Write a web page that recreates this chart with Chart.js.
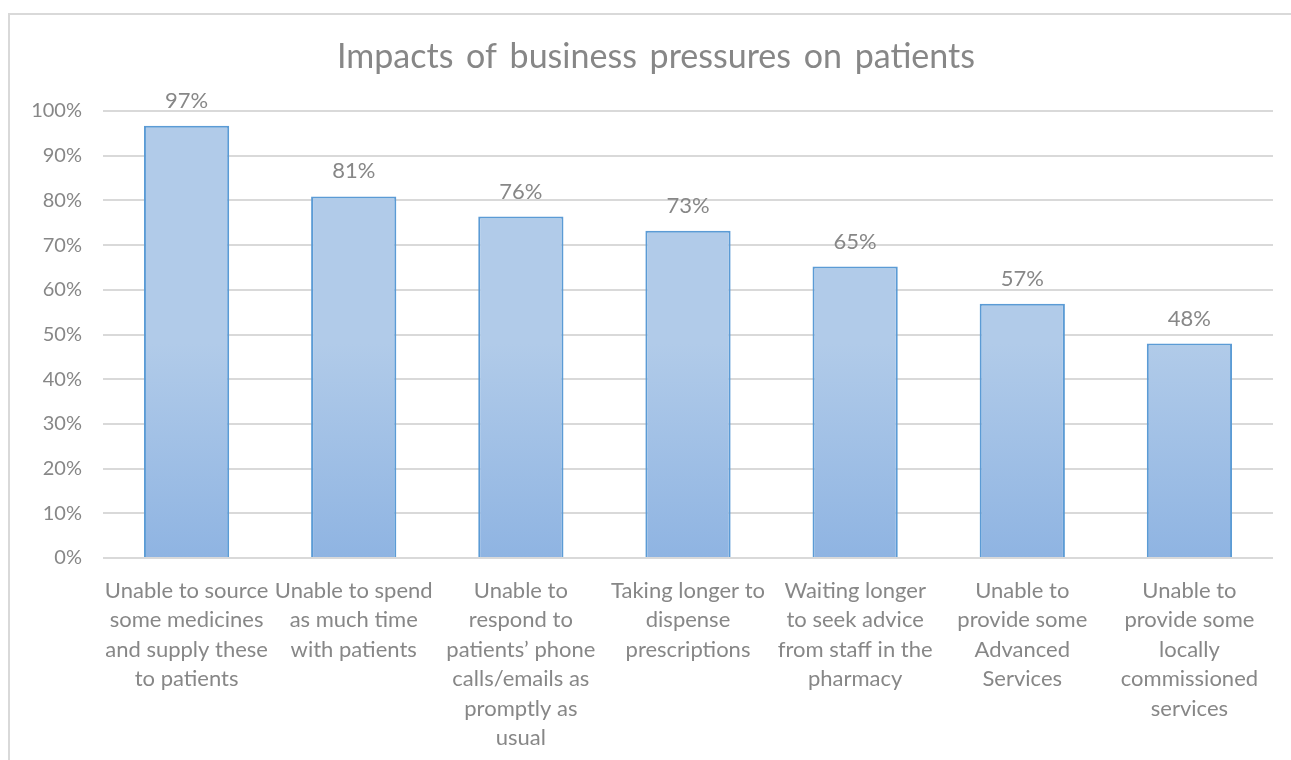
<!DOCTYPE html>
<html>
<head>
<meta charset="utf-8">
<script src="https://cdn.jsdelivr.net/npm/chart.js@4/dist/chart.umd.min.js"></script>
<style>
    html, body { margin: 0; padding: 0; background: #fff; }
    #wrap { position: relative; width: 1291px; height: 760px; overflow: hidden; }
    #frame { position: absolute; left: 8px; top: 13px; width: 1300px; height: 800px; border: 2px solid #d9d9d9; box-sizing: border-box; }
    canvas { position: absolute; left: 0; top: 0; }
</style>
</head>
<body>
<div id="wrap">
    <div id="frame"></div>
    <canvas id="impactChart" width="1291" height="760"></canvas>
</div>
<script>
const TITLE = 'Impacts of business pressures on patients';
const CATEGORIES = [
    ['Unable to source', 'some medicines', 'and supply these', 'to patients'],
    ['Unable to spend', 'as much time', 'with patients'],
    ['Unable to', 'respond to', 'patients’ phone', 'calls/emails as', 'promptly as', 'usual'],
    ['Taking longer to', 'dispense', 'prescriptions'],
    ['Waiting longer', 'to seek advice', 'from staff in the', 'pharmacy'],
    ['Unable to', 'provide some', 'Advanced', 'Services'],
    ['Unable to', 'provide some', 'locally', 'commissioned', 'services'],
];
const VALUES = [96.7, 80.9, 76.4, 73.2, 65.2, 56.9, 48.0];
const VALUE_LABELS = ['97%', '81%', '76%', '73%', '65%', '57%', '48%'];

const TEXT_GREY = '#878787';
const FONT = 'Lato, "Open Sans", sans-serif';

// Excel-style vertical gradient, one per bar
const barGradient = {
    id: 'barGradient',
    beforeDatasetsDraw(chart) {
        const c = chart.ctx;
        chart.getDatasetMeta(0).data.forEach(bar => {
            const g = c.createLinearGradient(0, bar.y, 0, bar.base);
            g.addColorStop(0, '#b1cbe9');
            g.addColorStop(1, '#8fb4e2');
            bar.options.backgroundColor = g;
        });
    },
};

const valueLabels = {
    id: 'valueLabels',
    afterDatasetsDraw(chart) {
        const c = chart.ctx;
        c.save();
        c.font = `22px ${FONT}`;
        c.fillStyle = TEXT_GREY;
        c.textAlign = 'center';
        c.textBaseline = 'middle';
        chart.getDatasetMeta(0).data.forEach((bar, i) => {
            c.fillText(VALUE_LABELS[i], bar.x, bar.y - 25);
        });
        c.restore();
    },
};

// title drawn by hand: centred on the frame, with Excel's wide word gaps
const spacedTitle = {
    id: 'spacedTitle',
    afterDraw(chart) {
        const c = chart.ctx;
        c.save();
        c.font = `34px ${FONT}`;
        c.fillStyle = TEXT_GREY;
        c.textAlign = 'center';
        c.textBaseline = 'middle';
        c.wordSpacing = '4px';
        c.fillText(TITLE, 656, 57);
        c.restore();
    },
};

new Chart(document.getElementById('impactChart'), {
    type: 'bar',
    data: {
        labels: CATEGORIES,
        datasets: [{
            data: VALUES,
            backgroundColor: '#a0c0e6',
            borderColor: '#5b9bd5',
            borderWidth: 2,
            borderSkipped: 'bottom',
            barPercentage: 0.51,
            categoryPercentage: 1,
        }],
    },
    options: {
        responsive: false,
        animation: false,
        layout: { padding: { left: 0, right: 18, top: 111, bottom: 0 } },
        plugins: {
            legend: { display: false },
            tooltip: { enabled: false },
            title: { display: false },
        },
        scales: {
            x: {
                grid: { display: false },
                border: { display: false },
                ticks: {
                    color: TEXT_GREY,
                    font: { family: FONT, size: 22, lineHeight: 1.34 },
                    maxRotation: 0,
                    autoSkip: false,
                    padding: 10,
                },
                afterFit(scale) { scale.height = 202; },
            },
            y: {
                min: 0,
                max: 100,
                ticks: {
                    stepSize: 10,
                    color: TEXT_GREY,
                    font: { family: FONT, size: 20 },
                    padding: 21,
                    callback: v => v + '%',
                },
                grid: { color: '#d9d9d9', lineWidth: 2, drawTicks: false },
                border: { display: false },
                afterFit(scale) { scale.width = 103; },
            },
        },
    },
    plugins: [barGradient, valueLabels, spacedTitle],
});
</script>
</body>
</html>
